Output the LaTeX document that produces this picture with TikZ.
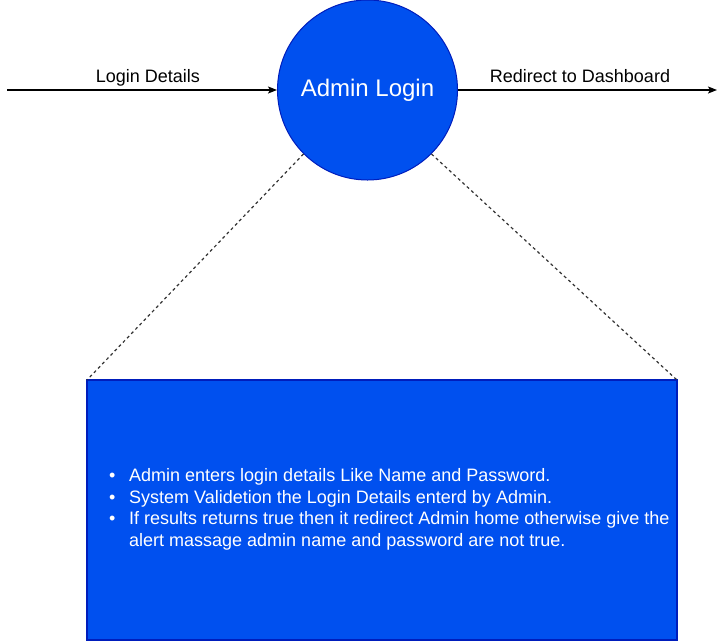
\documentclass[tikz,border=0pt]{standalone}
\usepackage{fontspec}
\setmainfont{Liberation Sans}
\usetikzlibrary{arrows.meta,calc,positioning}
\definecolor{FlowInk}{HTML}{000000}
\definecolor{FlowFill}{HTML}{0050EF}
\definecolor{FlowEdge}{HTML}{001DBC}
\definecolor{FlowGuide}{HTML}{333333}
\tikzset{
  every node/.style={text=FlowInk},
  process/.style={circle, draw=FlowEdge, line width=1pt, fill=FlowFill, minimum size=180pt, inner sep=0pt,
    text=white, font=\fontsize{24}{28}\selectfont},
  note/.style={draw=FlowEdge, line width=1.5pt, fill=FlowFill},
  flowlabel/.style={font=\fontsize{18}{21.6}\selectfont, anchor=base, inner sep=0pt},
  flow/.style={-{Stealth[length=9pt,width=7pt,inset=2pt]}, draw=FlowInk, line width=1.2pt},
  guide/.style={draw=FlowGuide, line width=1.2pt, dash pattern=on 3pt off 3pt},
}
\begin{document}
\begin{tikzpicture}[x=1pt,y=-1pt]
  \useasboundingbox (0,0) rectangle (726,641);
  % Process bubble and the data flows in and out
  \node[process] (login) at (367.5,90) {Admin Login};
  \coordinate (src) at (7,90);
  \coordinate (dst) at (717,90);
  \draw[flow] (src) -- (login);
  \draw[flow] (login) -- (dst);
  \node[flowlabel] (inlbl) at (148,82) {Login Details};
  \node[flowlabel] (outlbl) at (580,82) {Redirect to Dashboard};
  % Description box below, tied to the bubble by dashed guides
  \draw[note] (87,380) rectangle (677,640);
  \coordinate (boxL) at (87,380);
  \coordinate (boxR) at (677,380);
  \draw[guide] (login.225) -- (boxL);
  \draw[guide] (login.-45) -- (boxR);
  \node[anchor=west, align=left, inner sep=0pt, text=white, font=\fontsize{18}{21.6}\selectfont] (steps) at (109,509.5)
    {\makebox[20pt][l]{\textbullet}Admin enters login details Like Name and Password.\\
     \makebox[20pt][l]{\textbullet}System Validetion the Login Details enterd by Admin.\\
     \makebox[20pt][l]{\textbullet}If results returns true then it redirect Admin home otherwise give the\\
     \hspace*{20pt}alert massage admin name and password are not true.};
\end{tikzpicture}
\end{document}
